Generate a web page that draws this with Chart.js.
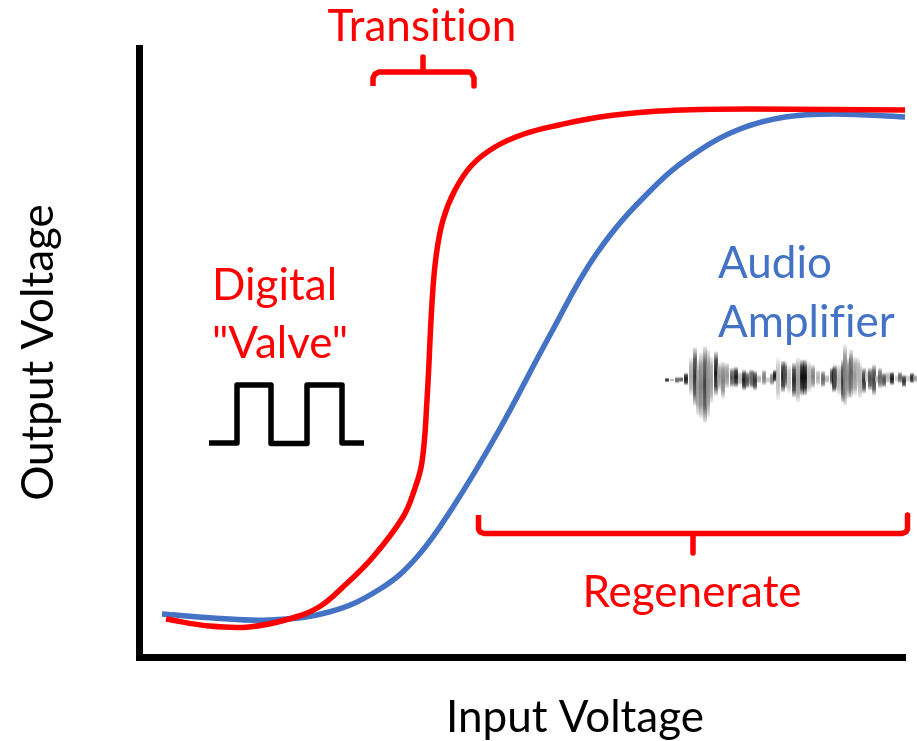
<!DOCTYPE html>
<html><head><meta charset="utf-8">
<style>html,body{margin:0;padding:0;background:#fff}canvas{display:block}</style>
<script src="https://cdn.jsdelivr.net/npm/chart.js@4"></script>
</head><body><canvas id="c" width="917" height="741"></canvas>
<script>
const xTitle = 'Input Voltage';
const yTitle = 'Output Voltage';

const redX = [27,70,110,150,180,204,234,264,275,283,288,293,297,304,316,333,356,385,420,461,521,561,611,691,766];
const redY = [38,31,30,38,50,70,100,140,166,195,257,354,400,437,467,492,510,523,532,540,546,547.5,548,547.5,547];

const blueX = [23,74,130,190,241,278,314,359,411,458,514,561,601,646,696,766];
const blueY = [43,39,37,45,68,100,150,225,322,404,469,507,528,540,543,540];

const squareX = [70,98,98,132,132,168,168,203,203,225];
const squareY = [214,214,272,272,213.5,213.5,272,272,214,214];

const transitionX = [234,234,236,240,284,284,284,331,333,335,335];
const transitionY = [571,579,583,585,585,600,585,585,583,579,571];

const regenerateX = [768.5,768.5,767,763,554,554,554,345,341,339.5,339.5];
const regenerateY = [142,128,125,123.5,123.5,104,123.5,123.5,125,128,142];

const waveBase = 277;
const waveX = [528,533,538,542,547,552,556,559,562,566,569,572,577,580,584,588,593,597,601,605,608,612,613,616,620,625,629,633,636,639,644,646,650,655,659,663,666,670,674,679,684,688,693,695,696,700,704,706,710,712,716,719,721,725,728,731,735,738,741,745,749,753,758,761,765,769,773,776];
const waveUp = [2,1,3,3,7,22,32,20,27,33,30,23,28,17,18,17,12,13,8,10,8,10,10,9,5,10,3,7,10,22,19,18,15,17,22,20,20,18,15,10,9,5,12,13,15,15,20,35,22,30,23,22,17,12,10,12,15,5,12,7,8,8,5,8,5,5,7,5];
const waveDown = [2,1,3,2,5,15,25,35,38,42,37,23,15,10,18,8,7,7,5,10,8,6,8,10,3,5,3,5,2,20,12,8,13,17,22,15,15,12,8,5,7,3,5,12,10,15,22,25,18,17,15,8,18,13,3,10,15,3,8,7,3,5,2,3,7,2,3,2];
const waveDark = [.8,.3,.6,.6,.9,.35,.8,.4,.5,.75,.45,.4,.9,.4,.5,.4,.65,.9,.3,.9,.7,.5,.6,.8,.3,.5,.2,.5,.9,.25,.85,.7,.25,.85,.4,.95,.95,.3,.5,.3,.6,.3,.7,.9,.7,.3,.8,.5,.5,.6,.4,.3,.3,.8,.2,.7,.75,.3,.6,.7,.3,.9,.2,.6,.8,.2,.85,.4];

const labelText = ['Transition','Digital','"Valve"','Audio','Amplifier','Regenerate'];
const labelX = [283,73,73,579,579,553];
const labelY = [616,357,299,379,320,50.5];
const labelAlign = ['center','left','left','left','left','center'];
const labelColor = ['#ff0000','#ff0000','#ff0000','#4472c4','#4472c4','#ff0000'];

const RED = '#ff0000', BLUE = '#4472c4';
const FONT = 'Lato, "Open Sans", sans-serif';
const SIZE = 44;
const pts = (xs, ys) => xs.map((x, i) => ({x, y: ys[i]}));

function waveFill(ctx) {
  const i = ctx.dataIndex;
  const s = ctx.chart.scales.y;
  if (i === undefined || !s) return '#555';
  const top = s.getPixelForValue(waveBase + waveUp[i]);
  const bot = s.getPixelForValue(waveBase - waveDown[i]);
  if (!isFinite(top) || !isFinite(bot)) return '#555';
  const g = ctx.chart.ctx.createLinearGradient(0, top, 0, bot);
  const v = Math.round(255 * (1 - waveDark[i]));
  const c = a => `rgba(${v},${v},${v},${a})`;
  g.addColorStop(0, c(0.15)); g.addColorStop(0.2, c(0.8));
  g.addColorStop(0.5, c(1)); g.addColorStop(0.8, c(0.8)); g.addColorStop(1, c(0.15));
  return g;
}

const textPlugin = {
  id: 'labels',
  afterDatasetsDraw(chart) {
    const {ctx, scales: {x, y}} = chart;
    ctx.save();
    ctx.font = SIZE + 'px ' + FONT;
    ctx.letterSpacing = '0.01px';
    ctx.textBaseline = 'alphabetic';
    labelText.forEach((t, i) => {
      ctx.fillStyle = labelColor[i];
      ctx.textAlign = labelAlign[i];
      ctx.fillText(t, x.getPixelForValue(labelX[i]), y.getPixelForValue(labelY[i]));
    });
    ctx.restore();
  }
};

const line = (label, xs, ys, color, width) => ({
  type: 'line', label, data: pts(xs, ys), borderColor: color, borderWidth: width,
  pointRadius: 0, fill: false, clip: false, tension: 0, borderJoinStyle: 'round'
});

new Chart(document.getElementById('c'), {
  data: {
    datasets: [
      Object.assign(line('Audio Amplifier', blueX, blueY, BLUE, 5.5), {tension: 0.4, order: 2}),
      Object.assign(line('Digital Valve', redX, redY, RED, 5.5), {tension: 0.4, order: 1}),
      line('Square wave', squareX, squareY, '#000', 5.5),
      line('Transition', transitionX, transitionY, RED, 5.5),
      line('Regenerate', regenerateX, regenerateY, RED, 5.5),
      {
        type: 'bar', label: 'Audio waveform',
        data: waveX.map((x, i) => ({x, y: [waveBase - waveDown[i], waveBase + waveUp[i]]})),
        backgroundColor: waveFill, barThickness: 3.2, grouped: false, clip: false, borderWidth: 0
      }
    ]
  },
  options: {
    responsive: false, animation: {duration: 0}, devicePixelRatio: 1,
    layout: {padding: {top: 48, right: 12, left: 0, bottom: 0}},
    plugins: {legend: {display: false}, tooltip: {enabled: false}},
    scales: {
      x: {
        type: 'linear', min: 0, max: 766, offset: false,
        grid: {display: false}, ticks: {display: false},
        border: {display: true, color: '#000', width: 7},
        title: {display: true, text: xTitle, color: '#000', font: {family: FONT, size: SIZE, lineHeight: 1.05}, padding: 0},
        afterFit(s) {
          s.height = 84;
          if (!s._shifted) {
            s._shifted = true;
            const draw = s.drawTitle.bind(s);
            s.drawTitle = function () {
              const r = s.right; s.right = r + 106; draw(); s.right = r;
            };
          }
        }
      },
      y: {
        type: 'linear', min: 0, max: 609,
        grid: {display: false}, ticks: {display: false},
        border: {display: true, color: '#000', width: 7},
        title: {display: true, text: yTitle, color: '#000', font: {family: FONT, size: SIZE}, padding: {top: 12, bottom: 0}},
        afterFit(s) { s.width = 139; }
      }
    }
  },
  plugins: [textPlugin]
});
</script></body></html>
